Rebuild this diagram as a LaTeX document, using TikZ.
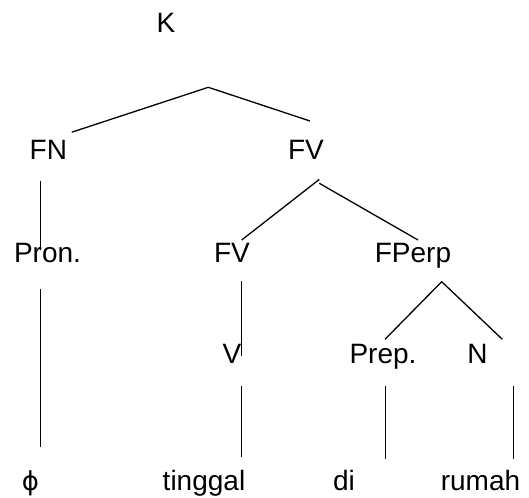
\documentclass[tikz,border=0pt]{standalone}
\usepackage{fontspec}
\setmainfont{Liberation Sans}
\newfontfamily\phifont{DejaVu Sans}
\begin{document}
\begin{tikzpicture}[x=1pt,y=-1pt,
  lbl/.style={anchor=base,inner sep=0pt,font=\fontsize{28}{32}\selectfont},
  branch/.style={line width=1.3pt,black,line cap=butt}]
\useasboundingbox (0,0) rectangle (529,497);

% labels of the tree
\node[lbl] (k)      at (166,33)  {K};
\node[lbl] (fn)     at (48.4,160) {FN};
\node[lbl] (fv)     at (306,160) {FV};
\node[lbl] (pron)   at (47.5,262) {Pron.};
\node[lbl] (fvlow)  at (232,262) {FV};
\node[lbl] (fperp)  at (413,262) {FPerp};
\node[lbl] (v)      at (232,363) {V};
\node[lbl] (prep)   at (383,363) {Prep.};
\node[lbl] (n)      at (477.5,363) {N};
\node[lbl,font=\phifont\fontsize{26}{30}\selectfont] (phi) at (30.5,490) {ϕ};
\node[lbl] (tinggal) at (204,490) {tinggal};
\node[lbl] (di)     at (344,490) {di};
\node[lbl] (rumah)  at (480.5,490) {rumah};

% branch end points
\coordinate (kLeft)    at (71.8,132.2);
\coordinate (kApex)    at (208.3,87.3);
\coordinate (kRight)   at (310,121);
\coordinate (fnTop)    at (40.5,180.5);
\coordinate (fnBot)    at (40.5,250);
\coordinate (pronTop)  at (40.5,289);
\coordinate (pronBot)  at (40.5,447);
\coordinate (fvApexL)  at (319.3,179.4);
\coordinate (fvApexR)  at (319.3,183.3);
\coordinate (fvLeft)   at (241.7,240);
\coordinate (fvRight)  at (418,240);
\coordinate (fvlTop)   at (241.5,281);
\coordinate (fvlBot)   at (241.5,356);
\coordinate (vTop)     at (241.5,386);
\coordinate (vBot)     at (241.5,456.5);
\coordinate (fpApex)   at (441.7,281.7);
\coordinate (fpLeft)   at (385,339.3);
\coordinate (fpRight)  at (502.3,339.3);
\coordinate (prepTop)  at (385.5,386);
\coordinate (prepBot)  at (385.5,459);
\coordinate (nTop)     at (513.7,386);
\coordinate (nBot)     at (513.7,459);

% branches
\draw[branch] (kLeft) -- (kApex) -- (kRight);
\draw[branch] (fnTop) -- (fnBot);
\draw[branch] (pronTop) -- (pronBot);
\draw[branch] (fvLeft) -- (fvApexL);
\draw[branch] (fvApexR) -- (fvRight);
\draw[branch] (fvlTop) -- (fvlBot);
\draw[branch] (vTop) -- (vBot);
\draw[branch] (fpLeft) -- (fpApex) -- (fpRight);
\draw[branch] (prepTop) -- (prepBot);
\draw[branch] (nTop) -- (nBot);
\end{tikzpicture}
\end{document}
